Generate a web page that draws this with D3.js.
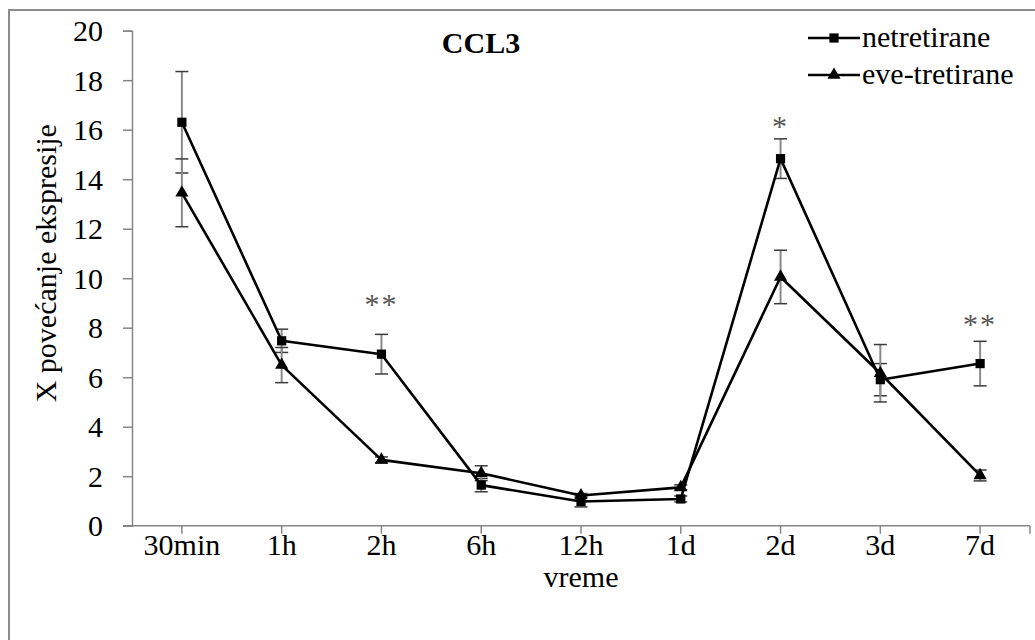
<!DOCTYPE html>
<html>
<head>
<meta charset="utf-8">
<script src="https://cdn.jsdelivr.net/npm/d3@7"></script>
<style>
  html, body { margin: 0; padding: 0; background: #fff; }
  svg { display: block; }
</style>
</head>
<body>
<svg id="chart" width="1035" height="640"></svg>
<script>
// Time points after treatment
const categories = ["30min", "1h", "2h", "6h", "12h", "1d", "2d", "3d", "7d"];

// Fold increase of CCL3 expression, untreated cells
const netretirane = [16.3, 7.47, 6.93, 1.64, 0.98, 1.08, 14.83, 5.9, 6.55];
const netretiraneErr = [2.05, 0.47, 0.8, 0.27, 0.22, 0.12, 0.8, 0.65, 0.9];

// Fold increase of CCL3 expression, EVE-treated cells
const eveTretirane = [13.45, 6.49, 2.66, 2.12, 1.22, 1.55, 10.05, 6.16, 2.03];
const eveTretiraneErr = [1.37, 0.71, 0.12, 0.3, 0.08, 0.1, 1.08, 1.16, 0.22];

// Significance marks and the height (in fold units) where each sits
const sigCategories = ["2h", "2d", "7d"];
const sigLabels = ["**", "*", "**"];
const sigLevels = [9.1, 16.3, 8.3];

const yTicks = [0, 2, 4, 6, 8, 10, 12, 14, 16, 18, 20];

const FONT = "'Liberation Serif'";
const FS = "30px";

const svg = d3.select("#chart");
const axisGrey = "#868686";

// apply the serif typeface to a text selection
function serif(sel) {
  return sel.style("font-family", FONT).style("font-size", FS);
}

// outer frame of the chart area
svg.append("rect")
  .attr("x", 9).attr("y", 10)
  .attr("width", 1040).attr("height", 640)
  .attr("fill", "none")
  .attr("stroke", "#8c8c8c")
  .attr("stroke-width", 2);

const plot = { left: 132, right: 1030, top: 30.7, bottom: 525.7 };

const x = d3.scaleBand().domain(categories).range([plot.left, plot.right]);
const cx = c => x(c) + x.bandwidth() / 2;
const y = d3.scaleLinear().domain([0, 20]).range([plot.bottom, plot.top]);

// y axis
const yAxis = d3.axisLeft(y).tickValues(yTicks).tickSize(9).tickPadding(20);
const gy = svg.append("g").attr("transform", `translate(${plot.left},0)`).call(yAxis);
gy.attr("font-family", null).attr("font-size", null);
gy.select(".domain").attr("stroke", axisGrey).attr("stroke-width", 1.5);
gy.selectAll(".tick line").attr("stroke", axisGrey).attr("stroke-width", 1.5);
gy.selectAll(".tick text").call(serif).attr("fill", "#000").attr("dy", "0.34em");

// x axis, ticks centred on each category
const gx = svg.append("g").attr("transform", `translate(0,${plot.bottom})`);
gx.append("line")
  .attr("x1", plot.left - 9).attr("x2", plot.right)
  .attr("y1", 0).attr("y2", 0)
  .attr("stroke", axisGrey).attr("stroke-width", 1.5);
const xt = gx.selectAll("g.xtick").data(categories).join("g")
  .attr("class", "xtick")
  .attr("transform", d => `translate(${cx(d)},0)`);
xt.append("line").attr("y1", 0).attr("y2", 8).attr("stroke", axisGrey).attr("stroke-width", 1.5);
xt.append("text")
  .attr("y", 29).attr("text-anchor", "middle")
  .call(serif)
  .text(d => d);
// last tick at the axis end
gx.append("line").attr("x1", plot.right).attr("x2", plot.right)
  .attr("y1", 0).attr("y2", 8).attr("stroke", axisGrey).attr("stroke-width", 1.5);

// axis titles
svg.append("text")
  .attr("x", (plot.left + plot.right) / 2).attr("y", 587)
  .attr("text-anchor", "middle")
  .call(serif)
  .text("vreme");
svg.append("text")
  .attr("transform", `translate(56,${(plot.top + plot.bottom) / 2 - 15}) rotate(-90)`)
  .attr("text-anchor", "middle")
  .call(serif)
  .text("X povećanje ekspresije");

// chart title
svg.append("text")
  .attr("x", 481).attr("y", 53)
  .attr("text-anchor", "middle")
  .call(serif).style("font-weight", "bold")
  .text("CCL3");

const seriesList = [
  { name: "netretirane", values: netretirane, err: netretiraneErr, marker: "square" },
  { name: "eve-tretirane", values: eveTretirane, err: eveTretiraneErr, marker: "triangle" }
];

// error bars
const errColor = "#8a8a8a";
const capColor = "#3a3a3a";
seriesList.forEach(s => {
  const g = svg.append("g");
  categories.forEach((c, i) => {
    const v = s.values[i], e = s.err[i];
    g.append("line")
      .attr("x1", cx(c)).attr("x2", cx(c))
      .attr("y1", y(v + e)).attr("y2", y(v - e))
      .attr("stroke", errColor).attr("stroke-width", 2);
    [v + e, v - e].forEach(t => {
      g.append("line")
        .attr("x1", cx(c) - 6.5).attr("x2", cx(c) + 6.5)
        .attr("y1", y(t)).attr("y2", y(t))
        .attr("stroke", capColor).attr("stroke-width", 1.5);
    });
  });
});

const line = d3.line().x((d, i) => cx(categories[i])).y(d => y(d));
const squareSym = d3.symbol().type(d3.symbolSquare).size(85);
const triSym = d3.symbol().type(d3.symbolTriangle).size(75);

seriesList.forEach(s => {
  svg.append("path")
    .datum(s.values)
    .attr("d", line)
    .attr("fill", "none")
    .attr("stroke", "#000")
    .attr("stroke-width", 2.6)
    .attr("stroke-linejoin", "round");
  svg.append("g").selectAll("path").data(s.values).join("path")
    .attr("transform", (d, i) => `translate(${cx(categories[i])},${y(d)})`)
    .attr("d", s.marker === "square" ? squareSym : triSym)
    .attr("fill", "#000");
});

// significance asterisks; the glyph centre sits about 14px above the baseline
sigCategories.forEach((c, i) => {
  svg.append("text")
    .attr("x", cx(c)).attr("y", y(sigLevels[i]) + 14)
    .attr("text-anchor", "middle")
    .call(serif)
    .style("fill", "#555")
    .style("letter-spacing", "2px")
    .text(sigLabels[i]);
});

// legend
const legend = svg.append("g");
seriesList.forEach((s, i) => {
  const ly = 38 + i * 37;
  legend.append("line")
    .attr("x1", 808).attr("x2", 860).attr("y1", ly).attr("y2", ly)
    .attr("stroke", "#000").attr("stroke-width", 2.6);
  legend.append("path")
    .attr("transform", `translate(834,${ly})`)
    .attr("d", s.marker === "square" ? squareSym() : triSym())
    .attr("fill", "#000");
  legend.append("text")
    .attr("x", 862).attr("y", ly + 9)
    .call(serif)
    .text(s.name);
});
</script>
</body>
</html>
